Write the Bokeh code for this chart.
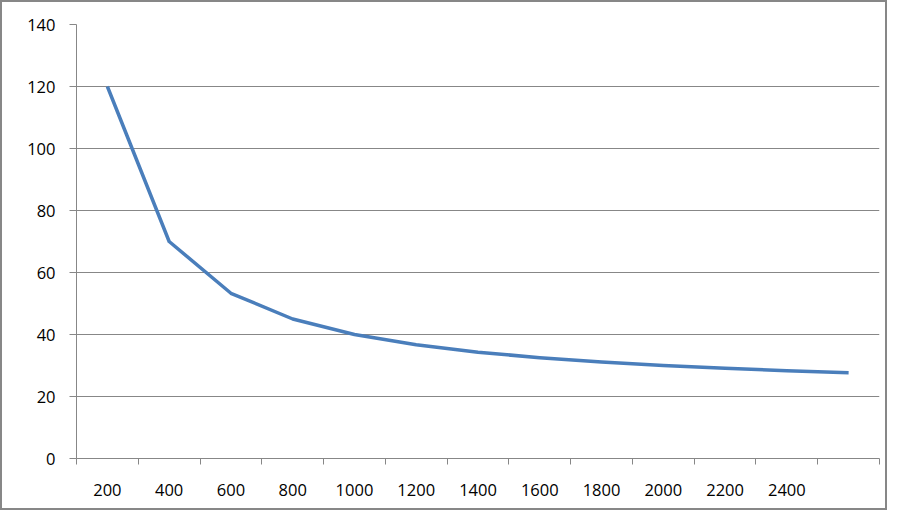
from bokeh.plotting import figure
from bokeh.models import Range1d, FixedTicker
from bokeh.embed import file_html
from bokeh.resources import INLINE

categories = ["200", "400", "600", "800", "1000", "1200", "1400", "1600",
              "1800", "2000", "2200", "2400", ""]
values = [120, 70, 53.3, 45, 40, 36.7, 34.3, 32.5, 31.1, 30, 29.1, 28.3, 27.7]
y_ticks = [0, 20, 40, 60, 80, 100, 120, 140]

n = len(categories)
xs = [i + 0.5 for i in range(n)]

p = figure(width=887, height=510, output_backend="svg", toolbar_location=None,
           x_range=Range1d(0, n), y_range=Range1d(0, 140),
           min_border_left=76, min_border_right=8, min_border_top=24,
           min_border_bottom=52)
p.outline_line_color = None
p.background_fill_color = "white"
p.border_fill_color = None
p.styles = {"box-shadow": "inset 0 0 0 2px #878787", "background-color": "white"}

gray = "#878787"
font = "Open Sans"
fsize = "16.5px"

p.line(xs, values, line_color="#4A7EBB", line_width=3.5, line_join="round")

# x axis
xa = p.xaxis[0]
xa.ticker = FixedTicker(ticks=xs, minor_ticks=list(range(n + 1)))
xa.major_label_overrides = {x: c for x, c in zip(xs, categories)}
xa.major_tick_line_color = None
xa.major_tick_out = 0
xa.major_tick_in = 0
xa.minor_tick_line_color = gray
xa.minor_tick_out = 6
xa.minor_tick_in = 0
xa.axis_line_color = gray
xa.major_label_text_font = font
xa.major_label_text_font_size = fsize
xa.major_label_text_color = "black"
xa.major_label_standoff = 19

# y axis
ya = p.yaxis[0]
ya.ticker = FixedTicker(ticks=y_ticks)
ya.major_tick_line_color = gray
ya.major_tick_out = 7
ya.major_tick_in = 0
ya.minor_tick_line_color = None
ya.axis_line_color = gray
ya.major_label_text_font = font
ya.major_label_text_font_size = fsize
ya.major_label_text_color = "black"
ya.major_label_standoff = 14

p.xgrid.grid_line_color = None
p.ygrid.ticker = FixedTicker(ticks=y_ticks)
p.ygrid.grid_line_color = gray
p.ygrid.grid_line_width = 1

open("out.html", "w").write(file_html(p, INLINE))
